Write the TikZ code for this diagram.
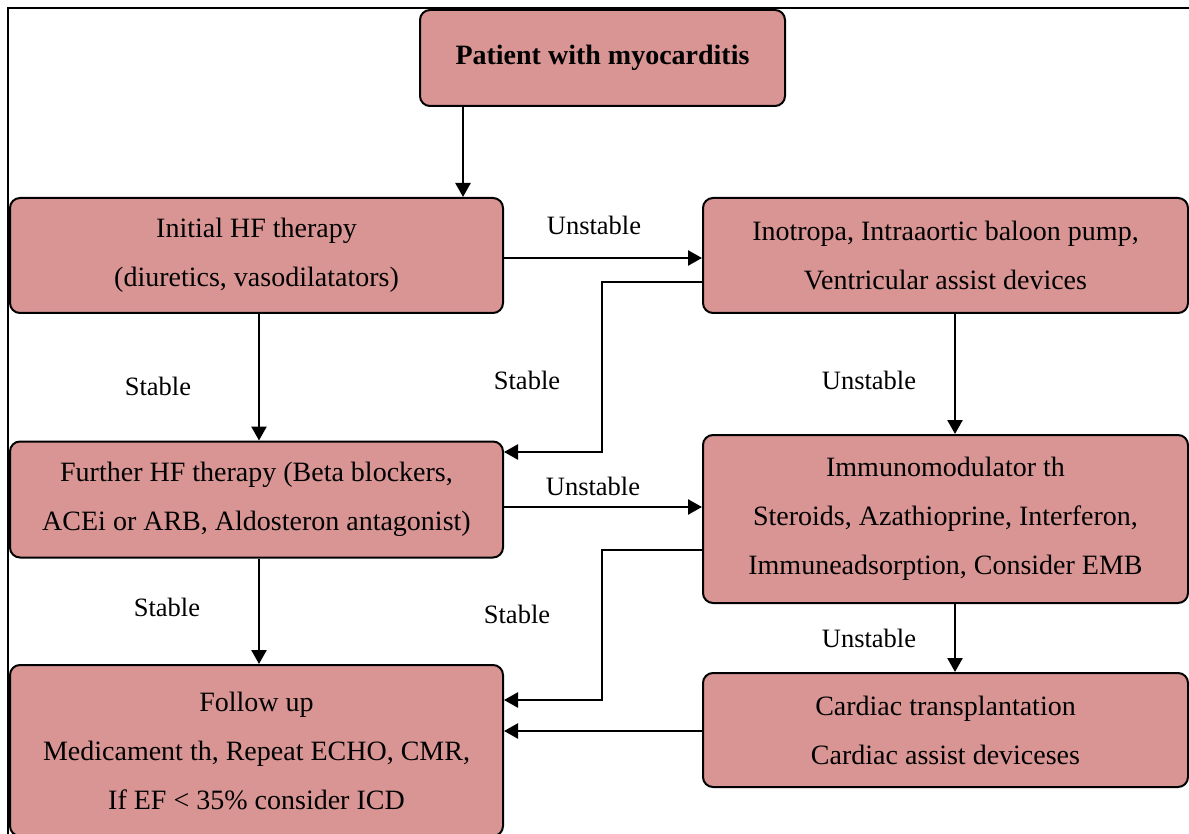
\documentclass[tikz,border=0pt]{standalone}
\usepackage{fontspec}
\setmainfont{Liberation Serif}
\usetikzlibrary{arrows.meta}
\definecolor{boxfill}{RGB}{217,149,148}
\begin{document}
\begin{tikzpicture}[x=1pt,y=-1pt,
  box/.style={draw=black, line width=2pt, fill=boxfill, rounded corners=10pt, align=center, inner sep=0pt, font=\fontsize{28}{49}\selectfont},
  arr/.style={line width=2.5pt, -{Triangle[length=14pt,width=15pt]}},
  lab/.style={font=\fontsize{26.5}{30}\selectfont, inner sep=0pt}]
\useasboundingbox (0,0) rectangle (1189,834);
\draw[line width=2pt] (8,850) -- (8,8) -- (1200,8);
% boxes
\node[box, minimum width=365pt, minimum height=96pt, font=\bfseries\fontsize{28}{49}\selectfont] (patient) at (602.5,58) {Patient with myocarditis};
\node[box, minimum width=493pt, minimum height=115pt] (initial) at (256.5,255.5) {Initial HF therapy\\(diuretics, vasodilatators)};
\node[box, minimum width=485pt, minimum height=115pt] (inotropa) at (945.5,255.5) {Inotropa, Intraaortic baloon pump,\\Ventricular assist devices};
\node[box, minimum width=493pt, minimum height=116pt] (further) at (256.5,499.5) {Further HF therapy (Beta blockers,\\ACEi or ARB, Aldosteron antagonist)};
\node[box, minimum width=485pt, minimum height=168pt] (immuno) at (945.5,519) {Immunomodulator th\\Steroids, Azathioprine, Interferon,\\Immuneadsorption, Consider EMB};
\node[box, minimum width=493pt, minimum height=171pt] (follow) at (256.5,750.5) {Follow up\\Medicament th, Repeat ECHO, CMR,\\If EF {\textless} 35\% consider ICD};
\node[box, minimum width=485pt, minimum height=114pt] (cardiac) at (945.5,730) {Cardiac transplantation\\Cardiac assist deviceses};
% helper coordinates
\coordinate (c463) at (463,0);
\coordinate (c259) at (259,0);
\coordinate (c955) at (955,0);
\coordinate (y258) at (0,258);
\coordinate (y282) at (0,282);
\coordinate (s1) at (602,452);
\coordinate (y507) at (0,507);
\coordinate (y550) at (0,550);
\coordinate (s2) at (602,700);
\coordinate (y731) at (0,731);
% connectors
\draw[arr] (patient.south -| c463) -- (initial.north -| c463);
\draw[arr] (initial.east |- y258) -- (inotropa.west |- y258);
\draw[arr] (inotropa.west |- y282) -| (s1) -- (further.east |- s1);
\draw[arr] (initial.south -| c259) -- (further.north -| c259);
\draw[arr] (inotropa.south -| c955) -- (immuno.north -| c955);
\draw[arr] (further.east |- y507) -- (immuno.west |- y507);
\draw[arr] (immuno.west |- y550) -| (s2) -- (follow.east |- s2);
\draw[arr] (further.south -| c259) -- (follow.north -| c259);
\draw[arr] (immuno.south -| c955) -- (cardiac.north -| c955);
\draw[arr] (cardiac.west |- y731) -- (follow.east |- y731);
% labels
\node[lab] (l1) at (594,225) {Unstable};
\node[lab] (l2) at (527,380) {Stable};
\node[lab] (l3) at (158,386) {Stable};
\node[lab] (l4) at (593,486) {Unstable};
\node[lab] (l5) at (167,607) {Stable};
\node[lab] (l6) at (517,614) {Stable};
\node[lab] (l7) at (869,380) {Unstable};
\node[lab] (l8) at (869,638) {Unstable};
\end{tikzpicture}
\end{document}
